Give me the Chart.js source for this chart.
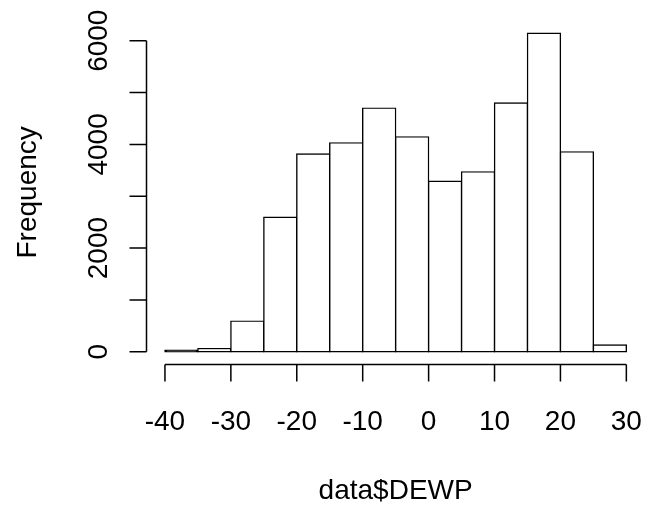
<!DOCTYPE html>
<html>
<head>
<meta charset="utf-8">
<script src="https://cdn.jsdelivr.net/npm/chart.js@4"></script>
<style>
  html, body { margin: 0; padding: 0; background: #ffffff; }
  #wrap { width: 645px; height: 510px; position: relative; }
</style>
</head>
<body>
<div id="wrap"><canvas id="c" width="645" height="510"></canvas></div>
<script>
// ---- data ----
const binBreaks = [-40, -35, -30, -25, -20, -15, -10, -5, 0, 5, 10, 15, 20, 25, 30];
const binCounts = [30, 60, 590, 2595, 3815, 4030, 4700, 4145, 3290, 3470, 4800, 6145, 3855, 130];
const xTickValues = [-40, -30, -20, -10, 0, 10, 20, 30];
const xTickLabels = ["-40", "-30", "-20", "-10", "0", "10", "20", "30"];
const yTickValues = [0, 1000, 2000, 3000, 4000, 5000, 6000];
const yTickLabels = ["0", "", "2000", "", "4000", "", "6000"];
const xTitle = "data$DEWP";
const yTitle = "Frequency";

const FONT = '28px "Liberation Sans", Arial, sans-serif';
const BORDER = 1.4;

const points = binCounts.map((c, i) => ({ x: (binBreaks[i] + binBreaks[i + 1]) / 2, y: c }));

const rAxes = {
  id: 'rAxes',
  afterDraw(chart) {
    const ctx = chart.ctx;
    const xs = chart.scales.x, ys = chart.scales.y;
    const area = chart.chartArea;
    ctx.save();
    ctx.strokeStyle = '#000';
    ctx.fillStyle = '#000';
    ctx.lineWidth = 1.5;
    ctx.font = FONT;
    // x axis
    const axY = area.bottom;
    const tickLen = 17;
    ctx.beginPath();
    ctx.moveTo(xs.getPixelForValue(xTickValues[0]), axY);
    ctx.lineTo(xs.getPixelForValue(xTickValues[xTickValues.length - 1]), axY);
    xTickValues.forEach(v => {
      const p = xs.getPixelForValue(v);
      ctx.moveTo(p, axY);
      ctx.lineTo(p, axY + tickLen);
    });
    ctx.stroke();
    ctx.textAlign = 'center';
    ctx.textBaseline = 'alphabetic';
    xTickValues.forEach((v, i) => {
      ctx.fillText(xTickLabels[i], xs.getPixelForValue(v), axY + 65);
    });
    ctx.fillText(xTitle, (area.left + area.right) / 2, 499);
    // y axis
    const axX = area.left;
    ctx.beginPath();
    ctx.moveTo(axX, ys.getPixelForValue(yTickValues[0]));
    ctx.lineTo(axX, ys.getPixelForValue(yTickValues[yTickValues.length - 1]));
    yTickValues.forEach(v => {
      const p = ys.getPixelForValue(v);
      ctx.moveTo(axX, p);
      ctx.lineTo(axX - tickLen, p);
    });
    ctx.stroke();
    yTickValues.forEach((v, i) => {
      if (!yTickLabels[i]) return;
      ctx.save();
      ctx.translate(axX - 40, ys.getPixelForValue(v));
      ctx.rotate(-Math.PI / 2);
      ctx.fillText(yTickLabels[i], 0, 0);
      ctx.restore();
    });
    ctx.save();
    ctx.translate(36, (area.top + area.bottom) / 2);
    ctx.rotate(-Math.PI / 2);
    ctx.fillText(yTitle, 0, 0);
    ctx.restore();
    ctx.restore();
  }
};

new Chart(document.getElementById('c'), {
  type: 'bar',
  data: {
    datasets: [{
      data: points,
      // very short bars render as a solid outline (as R's overlapping strokes do)
      backgroundColor: (c) => {
        const ys = c.chart.scales.y;
        if (!ys || !c.raw) return '#ffffff';
        const h = ys.getPixelForValue(0) - ys.getPixelForValue(c.raw.y);
        return h < 2 * BORDER ? '#000000' : '#ffffff';
      },
      borderColor: '#000000',
      borderWidth: BORDER,
      borderSkipped: false,
      inflateAmount: BORDER / 2,
      barPercentage: 1,
      categoryPercentage: 1
    }]
  },
  options: {
    responsive: false,
    animation: false,
    events: [],
    layout: { padding: { left: 146.5, right: 0.2, top: 20.2, bottom: 145.5 } },
    plugins: { legend: { display: false }, tooltip: { enabled: false }, title: { display: false } },
    scales: {
      x: { type: 'linear', min: -42.8, max: 32.8, display: false, offset: false },
      y: { type: 'linear', min: -246, max: 6396, display: false }
    }
  },
  plugins: [rAxes]
});
</script>
</body>
</html>
